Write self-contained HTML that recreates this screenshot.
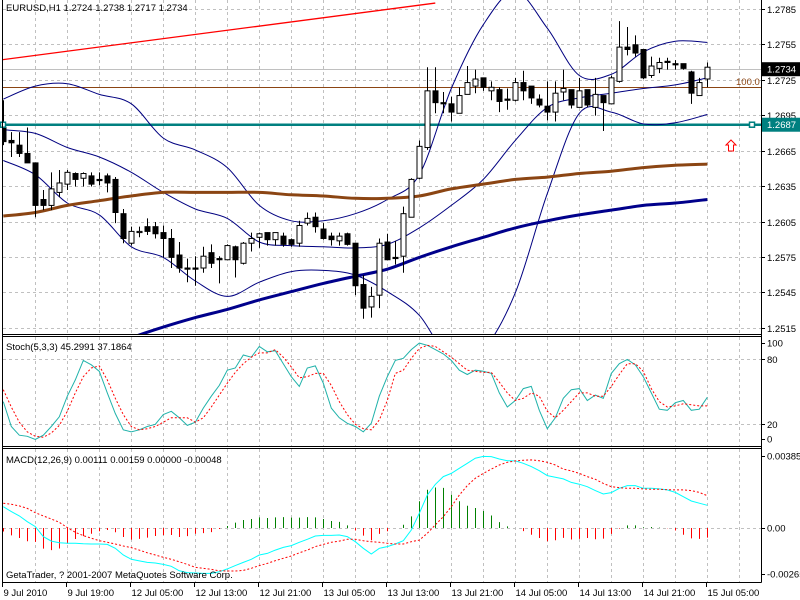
<!DOCTYPE html>
<html><head><meta charset="utf-8"><title>EURUSD H1</title>
<style>
html,body{margin:0;padding:0;background:#fff;width:800px;height:600px;overflow:hidden}
svg{display:block;font-family:"Liberation Sans",sans-serif;font-size:9.5px}
</style></head>
<body>
<svg id="chart" width="800" height="600" viewBox="0 0 800 600" xmlns="http://www.w3.org/2000/svg">
<defs>
<clipPath id="cMain"><rect x="3" y="0" width="758" height="334"/></clipPath>
<clipPath id="cSto"><rect x="3" y="337" width="758" height="109"/></clipPath>
<clipPath id="cMacd"><rect x="3" y="449" width="758" height="133"/></clipPath>
</defs>
</svg>
<script>
// ---- data ----
const dateLabels = ["9 Jul 2010","9 Jul 19:00","12 Jul 05:00","12 Jul 13:00","12 Jul 21:00","13 Jul 05:00","13 Jul 13:00","13 Jul 21:00","14 Jul 05:00","14 Jul 13:00","14 Jul 21:00","15 Jul 05:00"];
const priceTicks = [1.2785,1.2755,1.2725,1.2695,1.2665,1.2635,1.2605,1.2575,1.2545,1.2515];
const opens = [1.2683,1.2672,1.2668,1.2661,1.2653,1.2622,1.2617,1.2628,1.2635,1.2644,
1.2640,1.2642,1.2639,1.2642,1.2639,1.2610,1.2585,1.2594,1.2599,1.2599,
1.2594,1.2589,1.2575,1.2564,1.2564,1.2564,1.2577,1.2572,1.2571,1.2582,
1.2568,1.2585,1.2590,1.2594,1.2588,1.2591,1.2588,1.2585,1.2602,1.2607,
1.2597,1.2591,1.2587,1.2593,1.2585,1.2550,1.2531,1.2541,1.2586,1.2573,
1.2574,1.2607,1.2640,1.2666,1.2714,1.2704,1.2703,1.2695,1.2711,1.2718,
1.2725,1.2714,1.2715,1.2707,1.2706,1.2721,1.2718,1.2707,1.2701,1.2696,
1.2713,1.2715,1.2700,1.2715,1.2700,1.2710,1.2703,1.2722,1.2751,1.2753,
1.2749,1.2727,1.2733,1.2739,1.2737,1.2737,1.2730,1.2710,1.2724];
const highs = [1.2706,1.2679,1.2679,1.2683,1.2653,1.2630,1.2645,1.2647,1.2647,1.2645,
1.2645,1.2645,1.2645,1.2644,1.2641,1.2614,1.2599,1.2599,1.2606,1.2603,
1.2600,1.2597,1.2586,1.2572,1.2574,1.2582,1.2584,1.2574,1.2584,1.2583,
1.2586,1.2594,1.2594,1.2594,1.2594,1.2594,1.2589,1.2604,1.2611,1.2611,
1.2602,1.2594,1.2594,1.2594,1.2585,1.2558,1.2548,1.2589,1.2593,1.2587,
1.2616,1.2640,1.2672,1.2734,1.2734,1.2713,1.2709,1.2717,1.2735,1.2732,
1.2725,1.2722,1.2717,1.2716,1.2725,1.2731,1.2718,1.2711,1.2722,1.2722,
1.2732,1.2715,1.2725,1.2715,1.2725,1.2710,1.2727,1.2773,1.2768,1.2761,
1.2749,1.2743,1.2742,1.2742,1.2740,1.2737,1.2731,1.2725,1.2738];
const lows = [1.2668,1.2658,1.2658,1.2653,1.2607,1.2613,1.2613,1.2624,1.2630,1.2633,
1.2633,1.2633,1.2634,1.2628,1.2602,1.2585,1.2583,1.2590,1.2592,1.2589,
1.2573,1.2564,1.2560,1.2552,1.2549,1.2560,1.2564,1.2551,1.2571,1.2556,
1.2567,1.2578,1.2581,1.2583,1.2583,1.2582,1.2582,1.2582,1.2600,1.2594,
1.2588,1.2583,1.2583,1.2583,1.2541,1.2521,1.2522,1.2530,1.2571,1.2567,
1.2560,1.2607,1.2639,1.2664,1.2695,1.2695,1.2688,1.2695,1.2711,1.2712,
1.2714,1.2706,1.2696,1.2698,1.2705,1.2706,1.2703,1.2700,1.2689,1.2688,
1.2706,1.2699,1.2700,1.2700,1.2693,1.2680,1.2703,1.2721,1.2744,1.2743,
1.2724,1.2725,1.2729,1.2732,1.2732,1.2732,1.2703,1.2710,1.2717];
const closes = [1.2671,1.2670,1.2661,1.2653,1.2617,1.2617,1.2631,1.2636,1.2645,1.2639,
1.2644,1.2635,1.2638,1.2636,1.2611,1.2589,1.2595,1.2595,1.2595,1.2593,
1.2589,1.2573,1.2564,1.2563,1.2563,1.2574,1.2568,1.2571,1.2583,1.2571,
1.2585,1.2589,1.2593,1.2588,1.2594,1.2584,1.2584,1.2600,1.2606,1.2599,
1.2589,1.2588,1.2591,1.2584,1.2549,1.2530,1.2540,1.2585,1.2571,1.2572,
1.2610,1.2639,1.2667,1.2714,1.2704,1.2703,1.2696,1.2710,1.2721,1.2724,
1.2717,1.2717,1.2705,1.2706,1.2721,1.2714,1.2708,1.2702,1.2696,1.2712,
1.2716,1.2702,1.2714,1.2702,1.2711,1.2704,1.2725,1.2751,1.2749,1.2746,
1.2725,1.2735,1.2738,1.2738,1.2736,1.2733,1.2712,1.2721,1.2734];
// indicator samples every 4 bars (bar 0,4,8,...,88)
const bbUpper = [1.2707,1.2718,1.2720,1.2711,1.2703,1.2674,1.2664,1.2649,1.2617,1.2604,1.2604,1.2610,1.2622,1.2643,1.2716,1.2770,1.2798,1.2767,1.2727,1.2728,1.2747,1.2756,1.2755];
const bbMiddle = [1.2681,1.2678,1.2666,1.2658,1.2645,1.2628,1.2614,1.2606,1.2586,1.2583,1.2582,1.2581,1.2584,1.2598,1.2617,1.2639,1.2672,1.2700,1.2708,1.2712,1.2716,1.2719,1.2725];
const bbLower = [1.2655,1.2643,1.2619,1.2609,1.2582,1.2573,1.2553,1.2540,1.2552,1.2561,1.2562,1.2558,1.2544,1.2524,1.2486,1.2495,1.2543,1.2627,1.2695,1.2696,1.2686,1.2687,1.2694];
const maBrown = [1.2608,1.2611,1.2617,1.2621,1.2625,1.2628,1.2628,1.2628,1.2628,1.2626,1.2625,1.2623,1.2623,1.2625,1.2631,1.2635,1.2639,1.2641,1.2644,1.2646,1.2649,1.2651,1.2652];
const maBlue = [1.2469,1.2478,1.2486,1.2495,1.2505,1.2514,1.2522,1.2529,1.2537,1.2544,1.2551,1.2557,1.2563,1.2573,1.2582,1.2590,1.2598,1.2604,1.2609,1.2613,1.2617,1.2619,1.2622];
const trendPrices = [1.2742,1.2790];
const trendBars = [0,54];
const hLevels = [1.2734,1.2719,1.2687];
const stochTicks = [100,80,20,0];
const stochMain = [41,18,10,9,6,10,18,27,46,61,79,75,69,49,30,15,13,15,18,20,29,32,26,19,22,35,46,56,70,72,84,82,92,87,88,76,64,55,72,74,58,35,26,21,18,13,21,46,64,79,81,89,95,93,89,85,79,70,66,70,69,67,49,36,42,53,55,33,16,26,44,52,53,42,47,44,67,76,80,75,64,49,34,33,40,42,33,34,45];
const stochSignal = [52,36,22,13,9,8,12,19,32,49,64,72,74,61,44,29,18,15,16,18,22,26,26,26,22,26,36,47,58,68,76,82,86,86,89,82,73,63,64,67,67,56,41,29,20,16,15,24,42,67,70,81,90,93,92,87,82,76,70,69,68,68,59,49,42,44,49,46,32,26,33,41,49,49,46,46,55,66,76,76,69,53,41,36,37,39,38,37,37];
const macdTicks = [0.00385,0.00,-0.00265];
const macdMain = [104,80,59,31,7,-42,-64,-72,-75,-75,-77,-78,-78,-80,-99,-132,-153,-161,-168,-171,-178,-187,-209,-218,-220,-222,-222,-214,-200,-184,-168,-153,-132,-124,-108,-95,-86,-70,-55,-39,-36,-36,-34,-42,-67,-99,-127,-99,-91,-78,-62,-10,72,161,213,251,267,292,316,341,350,349,337,329,328,316,300,280,256,248,240,223,214,202,183,166,173,194,207,207,194,194,191,186,174,153,132,121,111];
const macdSignal = [121,116,108,96,75,59,44,28,2,-21,-37,-50,-62,-70,-78,-88,-96,-108,-121,-132,-143,-153,-165,-178,-192,-197,-202,-209,-210,-210,-207,-197,-184,-173,-160,-148,-137,-121,-108,-91,-80,-70,-64,-55,-55,-62,-67,-70,-75,-78,-78,-67,-59,-26,15,55,104,161,207,243,267,288,308,321,328,331,333,329,321,308,288,279,267,251,238,218,202,197,194,194,191,189,189,187,186,186,183,174,158];

// ---- axes ----
const NS="http://www.w3.org/2000/svg";
const svg=document.getElementById('chart');
function xBar(i){return 3.3+8*i;}
function yP(p){return (1.27909-p)*11812;}
function yG(p){return yP(p)+2;}
function yS(v){return 446-v*1.083;}
function yM(v){return 528-v*20460;}
function mk(tag,attrs,parent){const e=document.createElementNS(NS,tag);for(const k in attrs)e.setAttribute(k,attrs[k]);(parent||svg).appendChild(e);return e;}
function grp(clip){const g=mk('g',clip?{'clip-path':'url(#'+clip+')'}:{});return g;}
function poly(arr,xf,yf){return arr.map((v,i)=>xf(i).toFixed(1)+','+yf(v).toFixed(1)).join(' ');}
function smooth(arr,xf,yf){
  const p=arr.map((v,i)=>[xf(i),yf(v)]);
  let d='M'+p[0][0].toFixed(1)+','+p[0][1].toFixed(1);
  for(let i=0;i<p.length-1;i++){
    const p0=p[Math.max(i-1,0)],p1=p[i],p2=p[i+1],p3=p[Math.min(i+2,p.length-1)];
    const c1=[p1[0]+(p2[0]-p0[0])/6,p1[1]+(p2[1]-p0[1])/6];
    const c2=[p2[0]-(p3[0]-p1[0])/6,p2[1]-(p3[1]-p1[1])/6];
    d+=' C'+c1[0].toFixed(1)+','+c1[1].toFixed(1)+' '+c2[0].toFixed(1)+','+c2[1].toFixed(1)+' '+p2[0].toFixed(1)+','+p2[1].toFixed(1);
  }
  return d;
}

// grid
const gGrid=grp(null);


for(let k=1;k*4<=92;k++){
  const x=Math.round(xBar(k*4))+0.5; if(x>760)break;
  const a=mk('line',{x1:x,y1:0,x2:x,y2:334,stroke:'#c0c0c0','stroke-dasharray':'3,3'},gGrid);
  
  
  const b=mk('line',{x1:x,y1:337,x2:x,y2:446,stroke:'#c0c0c0','stroke-dasharray':'3,3'},gGrid);
  
  
  const c=mk('line',{x1:x,y1:449,x2:x,y2:582,stroke:'#c0c0c0','stroke-dasharray':'3,3'},gGrid);
  
  
}
priceTicks.forEach(p=>{
  const y=Math.round(yG(p))+0.5;
  const l=mk('line',{x1:3,y1:y,x2:761,y2:y,stroke:'#c0c0c0','stroke-dasharray':'3,3'},gGrid);
  
  
  const t=mk('line',{x1:761,y1:y,x2:765,y2:y,stroke:'#000'});
  
  
  const tx=mk('text',{x:767,y:y+3.5,fill:'#000'});tx.textContent=p.toFixed(4);
  
  
});
[80,20].forEach(v=>{
  const y=Math.round(yS(v))+0.5;
  const l=mk('line',{x1:3,y1:y,x2:761,y2:y,stroke:'#c0c0c0','stroke-dasharray':'3,3'},gGrid);
  
  
});
{
  const y=Math.round(yM(0))+0.5;
  const l=mk('line',{x1:3,y1:y,x2:761,y2:y,stroke:'#c0c0c0','stroke-dasharray':'3,3'},gGrid);
  
  
}

// ---- main panel ----
const gMain=grp('cMain');


const tr=mk('line',{x1:xBar(trendBars[0])-1.3,y1:yG(trendPrices[0]),x2:xBar(trendBars[1]),y2:yG(trendPrices[1]),stroke:'#ff0000','stroke-width':1.3},gMain);


const hl0=mk('line',{x1:3,y1:Math.round(yG(hLevels[0]))+0.5,x2:761,y2:Math.round(yG(hLevels[0]))+0.5,stroke:'#c0c0c0'},gMain);


const hl1=mk('line',{x1:3,y1:Math.round(yG(hLevels[1]))+0.5,x2:761,y2:Math.round(yG(hLevels[1]))+0.5,stroke:'#8b4513'},gMain);


const hl2=mk('line',{x1:3,y1:yG(hLevels[2]),x2:761,y2:yG(hLevels[2]),stroke:'#008080','stroke-width':2.5},gMain);


const bx=i=>xBar(i*4);
[[bbUpper,'bollinger-upper'],[bbMiddle,'bollinger-middle'],[bbLower,'bollinger-lower']].forEach(([arr,nm])=>{
  const pl=mk('path',{d:smooth(arr,bx,yP),fill:'none',stroke:'#000080','stroke-width':1},gMain);
  
  
});
const mb=mk('path',{d:smooth(maBrown,bx,yP),fill:'none',stroke:'#8b4513','stroke-width':3},gMain);


const mbl=mk('path',{d:smooth(maBlue,bx,yP),fill:'none',stroke:'#00008b','stroke-width':3},gMain);


opens.forEach((o,i)=>{
  const c=closes[i],h=highs[i],l=lows[i],x=Math.round(xBar(i))+0.5;
  const g=mk('g',{},gMain);
  
  
  mk('line',{x1:x,y1:yP(h),x2:x,y2:yP(l),stroke:'#000'},g);
  const top=yP(Math.max(o,c)),bot=yP(Math.min(o,c));
  const ht=Math.max(bot-top,1);
  if(c<o) mk('rect',{x:x-2.5,y:top,width:5,height:ht,fill:'#000',stroke:'#000','stroke-width':1},g);
  else mk('rect',{x:x-2.5,y:top,width:5,height:ht,fill:'#fff',stroke:'#000','stroke-width':1},g);
});
[3,752].forEach(x=>{
  const y=yG(hLevels[2]);
  const r=mk('rect',{x:x-2.5,y:y-2.5,width:5,height:5,fill:'#fff',stroke:'#008080','stroke-width':1.5});
  
  
});
const ar=mk('path',{d:'M731,140 L736,145 L733.5,145 L733.5,151 L728.5,151 L728.5,145 L726,145 Z',fill:'#fff',stroke:'#ff0000','stroke-width':1});


const fl=mk('text',{x:736,y:yG(hLevels[1])-2,fill:'#8b4513'});fl.textContent='100.0';


{
  const y=yG(hLevels[0]);
  const r=mk('rect',{x:762,y:y-7,width:38,height:14,fill:'#000'});
  
  
  const t=mk('text',{x:767,y:y+3.5,fill:'#fff'});t.textContent=hLevels[0].toFixed(4);
  
  
  const y2=yG(hLevels[2]);
  const r2=mk('rect',{x:762,y:y2-7,width:38,height:14,fill:'#008080'});
  
  
  const t2=mk('text',{x:767,y:y2+3.5,fill:'#fff'});t2.textContent=hLevels[2].toFixed(4);
  
  
}
const ttl=mk('text',{x:6,y:11,fill:'#000'});ttl.textContent='EURUSD,H1  1.2724 1.2738 1.2717 1.2734';



// ---- stochastic ----
const gS=grp('cSto');


const sm=mk('polyline',{points:poly(stochMain,xBar,yS),fill:'none',stroke:'#20b2aa','stroke-width':1},gS);


const ss=mk('polyline',{points:poly(stochSignal,xBar,yS),fill:'none',stroke:'#ff0000','stroke-width':1,'stroke-dasharray':'2,2'},gS);


const stl=mk('text',{x:6,y:350,fill:'#000'});stl.textContent='Stoch(5,3,3) 45.2991 37.1864';


stochTicks.forEach(v=>{
  let y=yS(v); y=Math.min(Math.max(y,343),439);
  const t=mk('text',{x:767,y:y+3.5,fill:'#000'});t.textContent=String(v);
  
  
  const k=mk('line',{x1:761,y1:Math.round(y)+0.5,x2:765,y2:Math.round(y)+0.5,stroke:'#000'});
  
  
});

// ---- MACD ----
const gM=grp('cMacd');


macdMain.forEach((m,i)=>{
  const d=(m-macdSignal[i])*1e-5;
  const x=Math.round(xBar(i))+0.5;
  const b=mk('line',{x1:x,y1:yM(0),x2:x,y2:yM(d),stroke:d>=0?'#008000':'#ff0000','stroke-width':1},gM);
  
  
});
const mm=mk('polyline',{points:poly(macdMain,xBar,v=>yM(v*1e-5)),fill:'none',stroke:'#00ffff','stroke-width':1},gM);


const msg=mk('polyline',{points:poly(macdSignal,xBar,v=>yM(v*1e-5)),fill:'none',stroke:'#ff0000','stroke-width':1,'stroke-dasharray':'2,2'},gM);


const mtl=mk('text',{x:6,y:463,fill:'#000'});mtl.textContent='MACD(12,26,9) 0.00111 0.00159 0.00000 -0.00048';


macdTicks.forEach(v=>{
  let y=yM(v); y=Math.min(Math.max(y,456),574);
  const t=mk('text',{x:767,y:y+3.5,fill:'#000'});t.textContent=v===0?'0.00':v.toFixed(5);
  
  
  const k=mk('line',{x1:761,y1:Math.round(y)+0.5,x2:765,y2:Math.round(y)+0.5,stroke:'#000'});
  
  
});
const cp=mk('text',{x:6,y:578,fill:'#000'});cp.textContent='GetaTrader, ? 2001-2007 MetaQuotes Software Corp.';



// ---- borders ----
[[2.5,0,2.5,582.5],[761.5,0,761.5,582.5],[2.5,334.5,761.5,334.5],[2.5,336.5,761.5,336.5],[2.5,446.5,761.5,446.5],[2.5,448.5,761.5,448.5],[2.5,582.5,761.5,582.5]].forEach(a=>{
  const l=mk('line',{x1:a[0],y1:a[1],x2:a[2],y2:a[3],stroke:'#000','stroke-width':1});
  
  
});
dateLabels.forEach((s,k)=>{
  const x=Math.round(xBar(k*8))-0.5;
  const t=mk('line',{x1:x,y1:582,x2:x,y2:587,stroke:'#000'});
  
  
  const tx=mk('text',{x:x+1,y:596,fill:'#000'});tx.textContent=s;
  
  
});
</script>
</body></html>
